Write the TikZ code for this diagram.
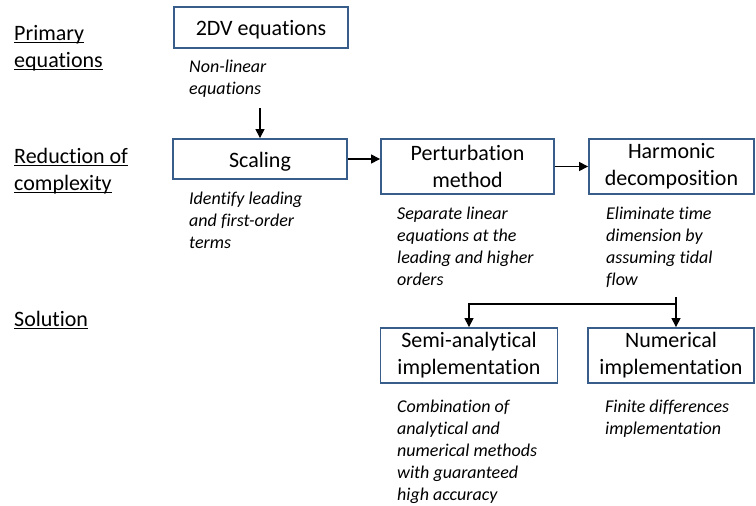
\documentclass[tikz,border=0pt]{standalone}
\usepackage{fontspec}
\setmainfont{Carlito}[Ligatures=NoCommon]
\usetikzlibrary{arrows.meta}
\definecolor{boxblue}{RGB}{56,93,138}
\newcommand\myul[1]{\setbox0\hbox{#1}\rlap{\rule[-3pt]{\wd0}{1.1pt}}\box0}
\begin{document}
\begin{tikzpicture}[x=1pt,y=-1pt,
  box/.style={draw=boxblue,line width=1.8pt,align=center,inner sep=0pt,
    font=\fontsize{22}{27}\selectfont},
  note/.style={anchor=base west,align=left,inner sep=0pt,
    font=\fontsize{18}{22}\selectfont\itshape},
  lab/.style={anchor=base west,align=left,inner sep=0pt,
    font=\fontsize{22}{27}\selectfont},
  arr/.style={-{Triangle[length=9pt,width=9pt]},line width=1.1pt},
  ln/.style={line width=1.1pt}]
\useasboundingbox (0,0) rectangle (756,506);
% left labels (anchor = baseline of last line)
\node[lab] (l1) at (14,67) {\myul{Primary}\\\myul{equations}};
\node[lab] (l2) at (14,190) {\myul{Reduction of}\\\myul{complexity}};
\node[lab] (l3) at (14,326) {\myul{Solution}};
% boxes
\node[box,minimum width=174pt,minimum height=41pt,text height=18pt,text depth=2pt] (b2dv) at (261,27.5) {2DV equations};
\node[box,minimum width=174pt,minimum height=40pt,text height=18pt,text depth=2pt] (scal) at (260,159) {Scaling};
\node[box,minimum width=173pt,minimum height=55pt] (pert) at (467.5,166.5) {Perturbation\\method};
\node[box,minimum width=165pt,minimum height=55pt] (harm) at (671.5,166.5) {Harmonic\\decomposition};
\node[box,minimum width=177pt,minimum height=55pt] (semi) at (469,355.5) {Semi-analytical\\implementation};
\node[box,minimum width=166pt,minimum height=55pt] (num) at (671,355.5) {Numerical\\implementation};
% notes (anchor = baseline of last line)
\node[note] (n1) at (189,94) {Non-linear\\equations};
\node[note] (n2) at (189,248) {Identify leading\\and first-order\\terms};
\node[note] (n3) at (397,285) {Separate linear\\equations at the\\leading and higher\\orders};
\node[note] (n4) at (606,285) {Eliminate time\\dimension by\\assuming tidal\\flow};
\node[note] (n5) at (397,500) {Combination of\\analytical and\\numerical methods\\with guaranteed\\high accuracy};
\node[note] (n6) at (605,434) {Finite differences\\implementation};
% connectors
\coordinate (a1) at (260,108);
\draw[arr] (a1) -- (scal.north);
\draw[arr] (scal.east) -- (scal.east -| pert.west);
\draw[arr] (pert.east) -- (harm.west);
\coordinate (sp) at (676,297);
\coordinate (jn) at (676,304);
\draw[ln] (sp) -- (jn);
\draw[arr] (jn) -| (semi.north);
\draw[arr] (jn) -- (jn |- num.north);
\end{tikzpicture}
\end{document}
